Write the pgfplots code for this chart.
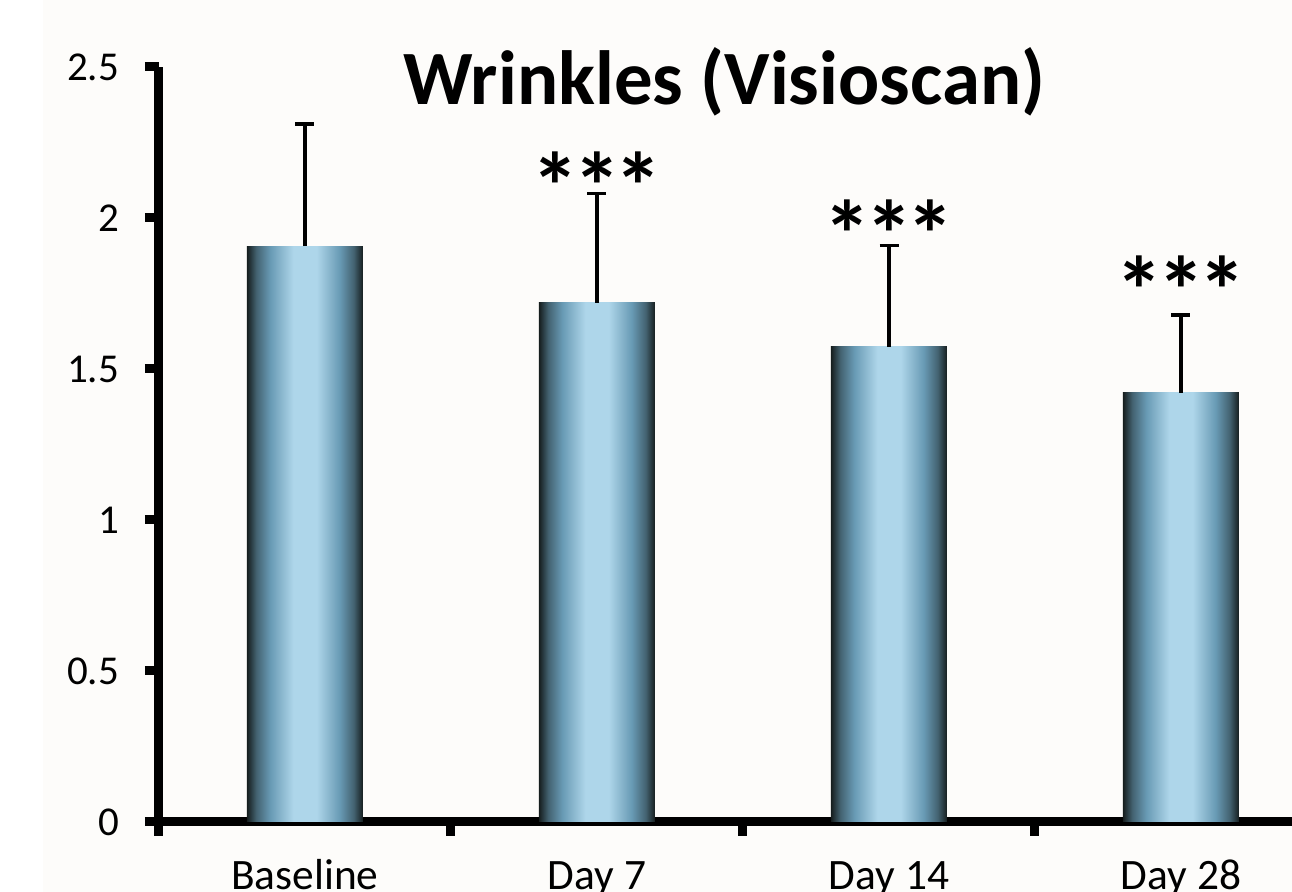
\documentclass[border=0pt]{standalone}
\usepackage{fontspec}
\setmainfont{Carlito}
\usepackage{pgfplots}
\pgfplotsset{compat=1.18}
\usepackage{pgfplotstable}

\definecolor{bgcol}{RGB}{253,252,250}
\definecolor{bdark}{RGB}{22,30,30}
\definecolor{bmid}{RGB}{104,154,180}
\definecolor{blight}{RGB}{174,214,234}
\pgfdeclarehorizontalshading{barshade}{100bp}{%
  color(0bp)=(bdark); color(25bp)=(bdark); color(29bp)=(bmid!55!bdark);
  color(35bp)=(bmid); color(45bp)=(blight); color(55bp)=(blight);
  color(65bp)=(bmid); color(71bp)=(bmid!55!bdark); color(75bp)=(bdark); color(100bp)=(bdark)}

\pgfplotstableread{
x y e
0 1.907 0.404
1 1.719 0.363
2 1.574 0.334
3 1.422 0.257
}\wrinkles

\pgfplotsset{
  onebar/.style n args={2}{shading=barshade, draw=none, bar shift=0pt,
    restrict x to domain=#1:#2,
    error bars/.cd, y dir=plus, y explicit,
    error bar style={line width=1.6pt, black},
    error mark options={rotate=90, line width=1.6pt, mark size=4.75pt, black}},
}

\begin{document}
\begin{tikzpicture}
\fill[bgcol] (-58pt,-35pt) rectangle (566.5pt,411pt);
\begin{axis}[
  at={(0pt,0pt)}, anchor=south west,
  scale only axis, width=584pt, height=377.5pt,
  xmin=-0.5, xmax=3.5, ymin=0, ymax=2.5,
  clip=false,
  axis lines*=left,
  axis line style={line width=4.5pt, black},
  ybar, bar width=58pt,
  tick align=outside,
  major tick length=7pt,
  tick style={black, line width=4.5pt},
  xtick={-0.5,0.5,1.5,2.5,3.5},
  xticklabels={},
  extra x ticks={0,1,2,3},
  extra x tick labels={Baseline, Day 7, Day 14, Day 28},
  extra x tick style={major tick length=0pt, tick style={draw=none},
     xticklabel style={text height=0.7em, anchor=north, yshift=-23pt,
       font=\fontsize{21.7}{25}\selectfont}},
  ytick={0,0.5,1,1.5,2,2.5},
  yticklabel style={xshift=-9.5pt},
  tick label style={font=\fontsize{20.5}{24}\selectfont, black},
  /pgf/number format/assume math mode=true,
]
\addplot[onebar={-0.2}{0.2}] table[x=x, y=y, y error=e] {\wrinkles};
\addplot[onebar={0.8}{1.2}] table[x=x, y=y, y error=e] {\wrinkles};
\addplot[onebar={1.8}{2.2}] table[x=x, y=y, y error=e] {\wrinkles};
\addplot[onebar={2.8}{3.2}] table[x=x, y=y, y error=e] {\wrinkles};
\node[anchor=base, font=\fontsize{38.4}{42}\selectfont\bfseries, inner sep=0pt]
  at (axis description cs:0.484,0.9497) {Wrinkles (Visioscan)};
\node[anchor=north, inner sep=0pt, font=\fontsize{48}{52}\selectfont\bfseries] at (axis cs:1,2.219) {*\kern-3pt*\kern-3pt*};
\node[anchor=north, inner sep=0pt, font=\fontsize{48}{52}\selectfont\bfseries] at (axis cs:2,2.060) {*\kern-3pt*\kern-3pt*};
\node[anchor=north, inner sep=0pt, font=\fontsize{48}{52}\selectfont\bfseries] at (axis cs:3,1.877) {*\kern-3pt*\kern-3pt*};
\end{axis}
\pgfresetboundingbox
\path[use as bounding box] (-79.5pt,-35pt) rectangle (566.5pt,411pt);
\end{tikzpicture}
\end{document}
